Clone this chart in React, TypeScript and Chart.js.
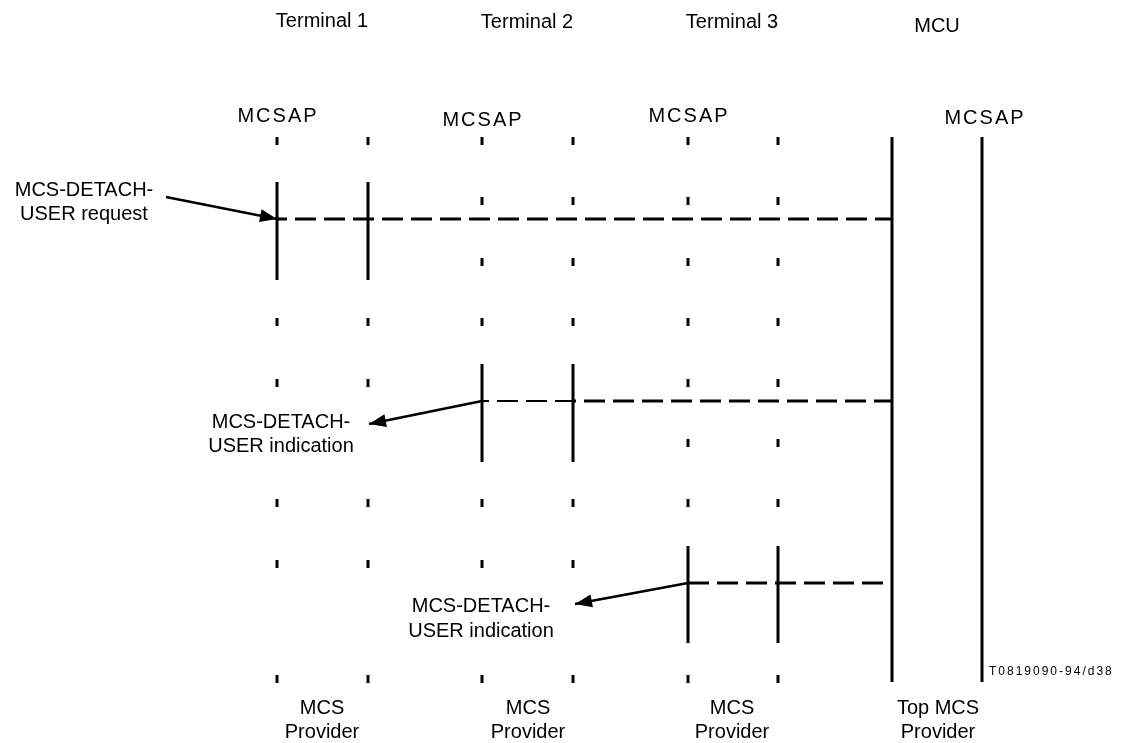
import React, { useEffect, useRef } from "react";
import { Chart, registerables } from "chart.js";

Chart.register(...registerables);

// ---- Diagram data (coordinates in diagram units) ----
const lifelineNames = ["T1 user", "T1 provider", "T2 user", "T2 provider", "T3 user", "T3 provider", "MCU provider", "MCU user"];
const lifelineX = [277, 368, 482, 573, 688, 778, 892, 982];

const headerLabels = ["Terminal 1", "Terminal 2", "Terminal 3", "MCU"];
const headerX = [322, 527, 732, 937];
const headerY = [27, 28, 28, 32];

const sapLabels = ["MCSAP", "MCSAP", "MCSAP", "MCSAP"];
const sapX = [277, 482, 688, 984];
const sapY = [122, 126, 122, 124];

const providerLine1 = ["MCS", "MCS", "MCS", "Top MCS"];
const providerLine2 = ["Provider", "Provider", "Provider", "Provider"];
const providerX = [322, 528, 732, 938];
const providerY = [714, 738];

// rows where dotted lifeline ticks appear, per terminal
const t1TickRows = [141, 322, 383, 503, 564, 679];
const t2TickRows = [141, 201, 262, 322, 503, 564, 679];
const t3TickRows = [141, 201, 262, 322, 383, 443, 503, 679];

// activation (solid) spans
const t1Active = [182, 280];
const t2Active = [364, 462];
const t3Active = [546, 643];
const mcuSpan = [137, 682];

// messages (dashed)
const requestMsg = { y: 219, from: 277, to: 892 };
const t2IndMsg = { y: 401, from: 482, mid: 573, to: 892 };
const t3IndMsg = { y: 583, from: 688, to: 883 };

// annotation arrows [start, tip]
const requestArrow = [[166, 197], [277, 219]];
const t2Arrow = [[482, 401], [369, 424]];
const t3Arrow = [[688, 583], [575, 604]];

const primitiveTexts = [
  { lines: ["MCS-DETACH-", "USER request"], x: 84, y: [196, 220] },
  { lines: ["MCS-DETACH-", "USER indication"], x: 281, y: [428, 452] },
  { lines: ["MCS-DETACH-", "USER indication"], x: 481, y: [612, 637] },
];

const figureId = "T0819090-94/d38";
const figureIdPos = [989, 675];

// ---- styles ----
const INK = "#000000";
const FONT = "'Liberation Sans', Arial, sans-serif";
const TICK_HALF = 4;
const DASH = [21, 8];

type Pt = { x: number; y: number | null };

function tickPoints(x: number, rows: number[]): Pt[] {
  const pts: Pt[] = [];
  rows.forEach((r) => {
    pts.push({ x, y: r - TICK_HALF });
    pts.push({ x, y: r + TICK_HALF });
    pts.push({ x, y: null });
  });
  return pts;
}

function line(data: Pt[], width: number, dash: number[] = [], offset = 0) {
  return {
    data,
    borderColor: INK,
    backgroundColor: INK,
    borderWidth: width,
    borderDash: dash,
    borderDashOffset: offset,
    borderCapStyle: "butt",
    pointRadius: 0,
    pointHoverRadius: 0,
    fill: false,
    tension: 0,
    spanGaps: false,
  } as any;
}

function buildDatasets() {
  const ds: any[] = [];
  // ticks
  ds.push(line(tickPoints(lifelineX[0], t1TickRows), 3));
  ds.push(line(tickPoints(lifelineX[1], t1TickRows), 3));
  ds.push(line(tickPoints(lifelineX[2], t2TickRows), 3));
  ds.push(line(tickPoints(lifelineX[3], t2TickRows), 3));
  ds.push(line(tickPoints(lifelineX[4], t3TickRows), 3));
  ds.push(line(tickPoints(lifelineX[5], t3TickRows), 3));
  // activation bars
  const vbar = (x: number, span: number[]) => [{ x, y: span[0] }, { x, y: span[1] }];
  ds.push(line(vbar(lifelineX[0], t1Active), 3));
  ds.push(line(vbar(lifelineX[1], t1Active), 3));
  ds.push(line(vbar(lifelineX[2], t2Active), 3));
  ds.push(line(vbar(lifelineX[3], t2Active), 3));
  ds.push(line(vbar(lifelineX[4], t3Active), 3));
  ds.push(line(vbar(lifelineX[5], t3Active), 3));
  ds.push(line(vbar(lifelineX[6], mcuSpan), 3));
  ds.push(line(vbar(lifelineX[7], mcuSpan), 3));
  // messages
  ds.push(line([{ x: requestMsg.from, y: requestMsg.y }, { x: requestMsg.to, y: requestMsg.y }], 3, DASH, 11));
  ds.push(line([{ x: t2IndMsg.from, y: t2IndMsg.y }, { x: t2IndMsg.mid, y: t2IndMsg.y }], 2, DASH, 14));
  ds.push(line([{ x: t2IndMsg.mid, y: t2IndMsg.y }, { x: t2IndMsg.to, y: t2IndMsg.y }], 3, DASH, 18));
  ds.push(line([{ x: t3IndMsg.from, y: t3IndMsg.y }, { x: t3IndMsg.to, y: t3IndMsg.y }], 3, DASH, 0));
  // arrows
  [requestArrow, t2Arrow, t3Arrow].forEach((a) => {
    const d = line([{ x: a[0][0], y: a[0][1] }, { x: a[1][0], y: a[1][1] }], 2.5);
    d.isArrow = true;
    ds.push(d);
  });
  return ds;
}

const annotationPlugin = {
  id: "diagramAnnotations",
  afterDatasetsDraw(chart: any) {
    const ctx = chart.ctx as CanvasRenderingContext2D;
    const xs = chart.scales.x;
    const ys = chart.scales.y;
    const px = (v: number) => xs.getPixelForValue(v);
    const py = (v: number) => ys.getPixelForValue(v);
    ctx.save();

    // arrowheads
    chart.data.datasets.forEach((d: any) => {
      if (!d.isArrow) return;
      const a = d.data[0];
      const b = d.data[1];
      const x0 = px(a.x), y0 = py(a.y), x1 = px(b.x), y1 = py(b.y);
      const ang = Math.atan2(y1 - y0, x1 - x0);
      const L = 17, W = 6.5;
      ctx.fillStyle = INK;
      ctx.beginPath();
      ctx.moveTo(x1, y1);
      ctx.lineTo(x1 - L * Math.cos(ang) + W * Math.sin(ang), y1 - L * Math.sin(ang) - W * Math.cos(ang));
      ctx.lineTo(x1 - L * Math.cos(ang) - W * Math.sin(ang), y1 - L * Math.sin(ang) + W * Math.cos(ang));
      ctx.closePath();
      ctx.fill();
    });

    ctx.fillStyle = INK;
    ctx.textAlign = "center";
    ctx.textBaseline = "alphabetic";
    ctx.font = `20px ${FONT}`;
    (ctx as any).letterSpacing = "0px";
    headerLabels.forEach((t, i) => ctx.fillText(t, px(headerX[i]), py(headerY[i])));

    (ctx as any).letterSpacing = "2px";
    sapLabels.forEach((t, i) => ctx.fillText(t, px(sapX[i]) + 1, py(sapY[i])));
    (ctx as any).letterSpacing = "0px";

    providerLine1.forEach((t, i) => ctx.fillText(t, px(providerX[i]), py(providerY[0])));
    providerLine2.forEach((t, i) => ctx.fillText(t, px(providerX[i]), py(providerY[1])));

    primitiveTexts.forEach((p) => {
      p.lines.forEach((t, j) => ctx.fillText(t, px(p.x), py(p.y[j])));
    });

    ctx.textAlign = "left";
    ctx.font = `12px ${FONT}`;
    (ctx as any).letterSpacing = "2px";
    ctx.fillText(figureId, px(figureIdPos[0]), py(figureIdPos[1]));
    (ctx as any).letterSpacing = "0px";
    ctx.restore();
  },
};

export default function App() {
  const ref = useRef<HTMLCanvasElement | null>(null);
  useEffect(() => {
    if (!ref.current) return;
    const chart = new Chart(ref.current, {
      type: "line",
      data: { datasets: buildDatasets() },
      options: {
        animation: false,
        responsive: false,
        events: [],
        layout: { padding: 0 },
        plugins: { legend: { display: false }, tooltip: { enabled: false } },
        scales: {
          x: { type: "linear", min: 0, max: 1124, display: false },
          y: { type: "linear", min: 0, max: 743, reverse: true, display: false },
        },
      },
      plugins: [annotationPlugin],
    } as any);
    return () => chart.destroy();
  }, []);
  return (
    <div style={{ position: "fixed", left: 0, top: 0, width: 1124, height: 743, background: "#fff" }}>
      <canvas ref={ref} width={1124} height={743} aria-label={lifelineNames.join(", ")} />
    </div>
  );
}
